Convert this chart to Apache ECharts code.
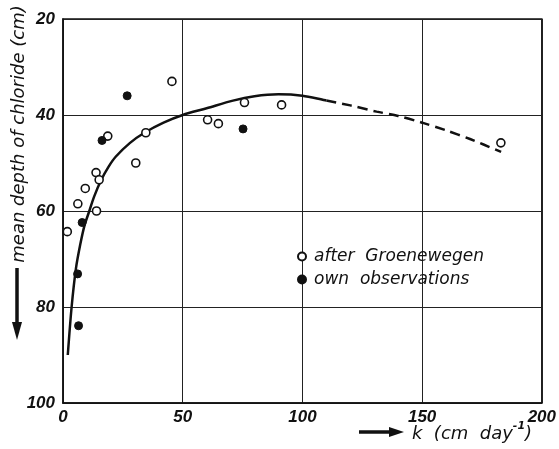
<!DOCTYPE html>
<html>
<head>
<meta charset="utf-8">
<script src="https://cdn.jsdelivr.net/npm/echarts@6/dist/echarts.min.js"></script>
<style>
html,body{margin:0;padding:0;background:#fff;}
#chart{width:559px;height:449px;}
</style>
</head>
<body>
<div id="chart"></div>
<script>
// ---- data (k in cm/day, mean depth in cm) ----
var groenewegen = [[1.8,64.3],[6.2,58.5],[9.3,55.3],[13.8,52.0],[14.0,60.0],[15.1,53.5],[18.7,44.4],[30.4,50.0],[34.6,43.7],[45.5,33.0],[60.4,41.0],[64.9,41.8],[75.8,37.4],[91.3,37.9],[182.9,45.8]];
var ownObs = [[6.1,73.1],[6.5,83.9],[8.0,62.4],[16.3,45.3],[26.8,36.0],[75.2,42.9]];
var curveSolid = [[2,90],[3.6,80],[5.4,72],[7.2,67],[9,63],[11,60],[13,57],[16,53.5],[19,50.8],[22,48.7],[28,45.8],[34,43.7],[42,41.6],[50,40],[60,38.6],[71,37],[80,36.1],[90,35.7],[100,36],[110,37]];
var curveDashed = [[110,37],[120,38],[131,39.3],[140,40.2],[150,41.6],[160,43.2],[170,45],[183,47.7]];
var xTicks = [0,50,100,150,200];
var yTicks = [20,40,60,80,100];
var legendNames = ['after  Groenewegen','own  observations'];

var chart = echarts.init(document.getElementById('chart'));
var tickFont = {fontFamily:'Liberation Sans', fontStyle:'italic', fontWeight:'bold', fontSize:17, color:'#111'};
var option = {
  animation:false,
  backgroundColor:'#fff',
  grid:{left:63, right:14, top:19, bottom:46, show:true, borderColor:'#111', borderWidth:1.5, backgroundColor:'transparent'},
  xAxis:{type:'value', min:xTicks[0], max:xTicks[xTicks.length-1], interval:50,
    axisLine:{show:true, onZero:false, lineStyle:{color:'#111', width:1.5}},
    axisTick:{show:false},
    axisLabel:Object.assign({margin:6}, tickFont),
    splitLine:{show:true, lineStyle:{color:'#222', width:1}}},
  yAxis:{type:'value', inverse:true, min:yTicks[0], max:yTicks[yTicks.length-1], interval:20,
    axisLine:{show:true, onZero:false, lineStyle:{color:'#111', width:1.5}},
    axisTick:{show:false},
    axisLabel:Object.assign({margin:8}, tickFont),
    splitLine:{show:true, lineStyle:{color:'#222', width:1}}},
  legend:{orient:'vertical', left:292, top:243, itemGap:6, itemWidth:8, itemHeight:8,
    data:[{name:legendNames[0], icon:'circle'},{name:legendNames[1], icon:'circle'}],
    textStyle:{fontFamily:'DejaVu Sans', fontStyle:'italic', fontSize:17, color:'#111', padding:[0,0,0,3]}},
  series:[
    {type:'line', data:curveSolid, showSymbol:false, symbol:'none', smooth:0.3, lineStyle:{color:'#111', width:2.5}, z:2, silent:true},
    {type:'line', data:curveDashed, showSymbol:false, symbol:'none', smooth:0.3, lineStyle:{color:'#111', width:2.5, type:[10,6]}, z:2, silent:true},
    {type:'scatter', name:legendNames[0], data:groenewegen, symbol:'circle', symbolSize:8, itemStyle:{color:'#fff', borderColor:'#111', borderWidth:1.6, opacity:1}, z:5},
    {type:'scatter', name:legendNames[1], data:ownObs, symbol:'circle', symbolSize:8, itemStyle:{color:'#111', borderColor:'#111', borderWidth:1, opacity:1}, z:5}
  ],
  graphic:[
    {type:'text', x:19, y:134, rotation:Math.PI/2, style:{text:'mean depth of chloride (cm)', fontFamily:'DejaVu Sans', fontStyle:'italic', fontSize:18, fill:'#111', align:'center', verticalAlign:'middle'}},
    {type:'line', shape:{x1:17, y1:268, x2:17, y2:326}, style:{stroke:'#111', lineWidth:3.5}},
    {type:'polygon', shape:{points:[[12,322],[22,322],[17,340]]}, style:{fill:'#111'}},
    {type:'line', shape:{x1:359, y1:432, x2:392, y2:432}, style:{stroke:'#111', lineWidth:3.5}},
    {type:'polygon', shape:{points:[[389,427],[389,437],[404,432]]}, style:{fill:'#111'}},
    {type:'text', x:412, y:432, style:{text:'{n|k  (cm  day}{s|-1}{n|)}', verticalAlign:'middle', align:'left',
      rich:{n:{fontFamily:'DejaVu Sans', fontStyle:'italic', fontSize:18, fill:'#111', verticalAlign:'bottom', lineHeight:22},
            s:{fontFamily:'DejaVu Sans', fontStyle:'italic', fontWeight:'bold', fontSize:11, fill:'#111', verticalAlign:'top', lineHeight:22}}}}
  ]
};
chart.setOption(option);
</script>
</body>
</html>
